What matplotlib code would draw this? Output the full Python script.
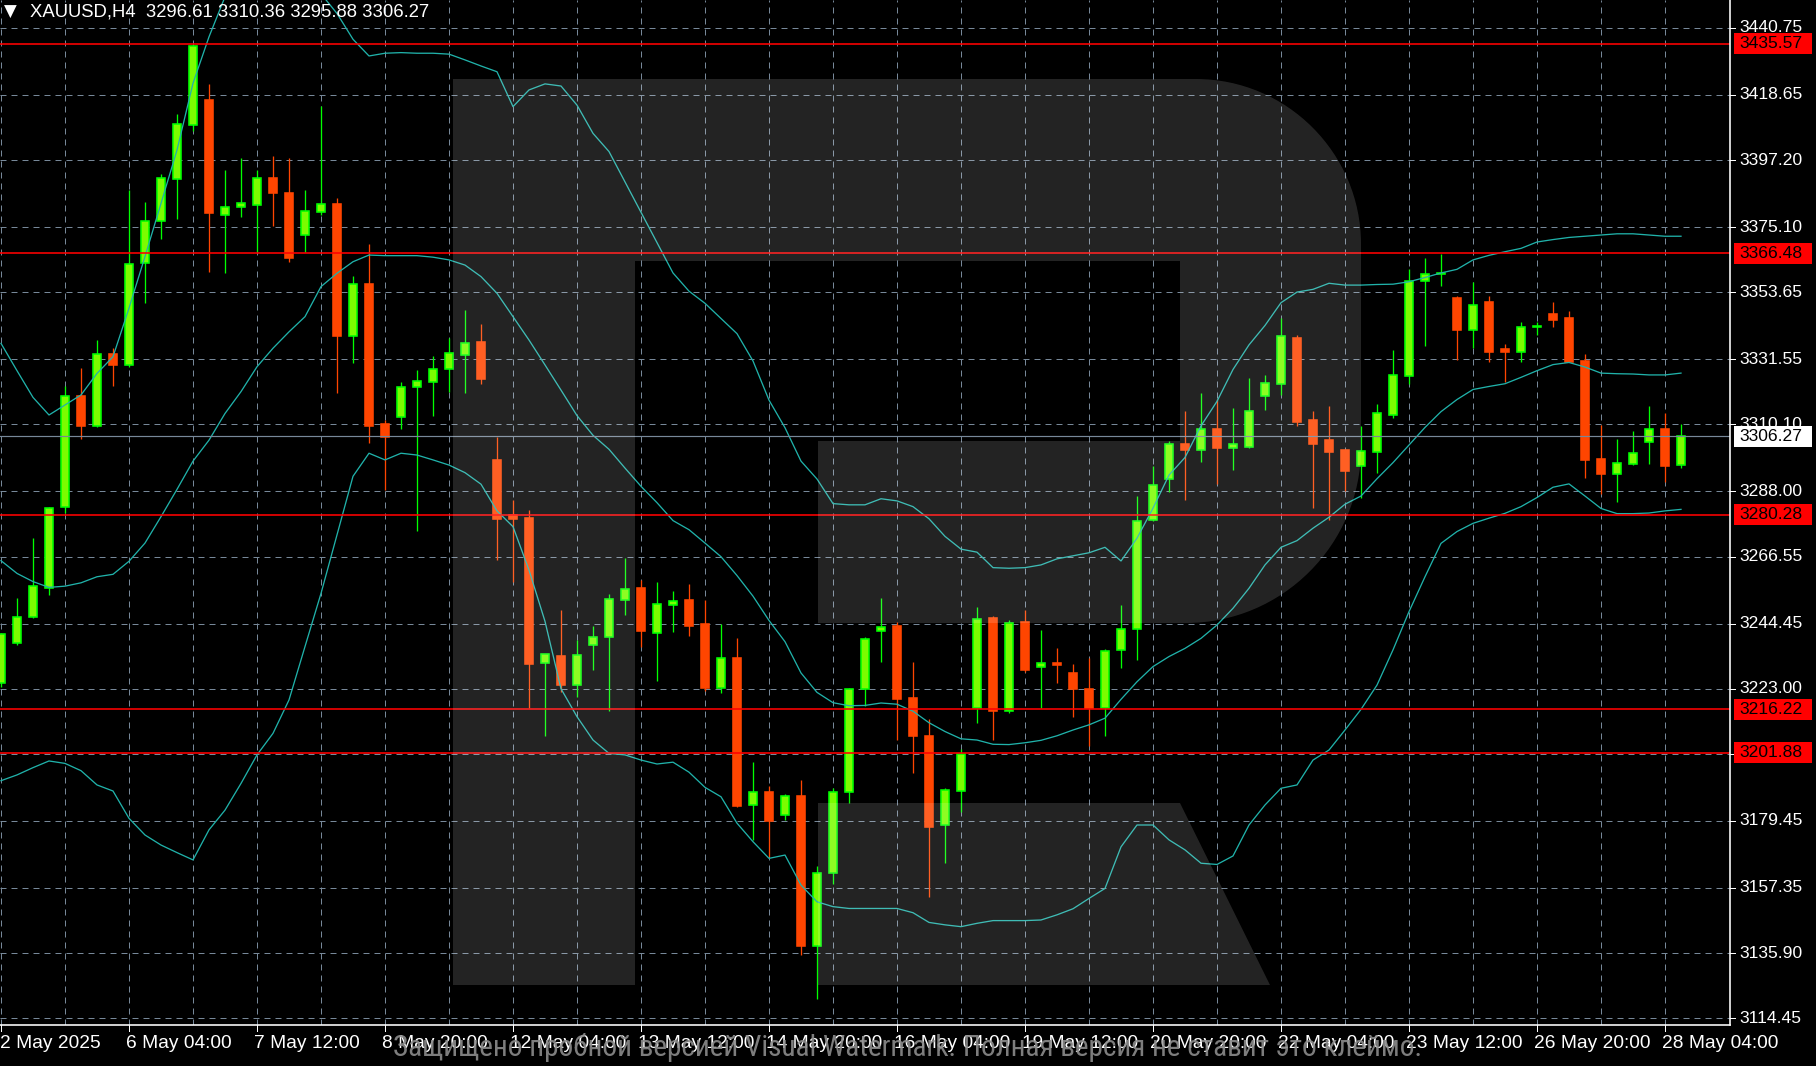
import matplotlib
matplotlib.use('Agg')
import matplotlib.pyplot as plt
from matplotlib.patches import Rectangle, PathPatch, Polygon
from matplotlib.path import Path
from matplotlib.lines import Line2D
import matplotlib.transforms as mtransforms
from matplotlib import font_manager

plt.rcParams['lines.scale_dashes'] = False

W, H, DPI = 1816, 1066, 100

# XAUUSD H4 candles (bar 0 = 2 May 2025 20:00)
opens = [3224.8, 3238.0, 3246.5, 3256.1, 3282.8, 3319.3, 3309.7, 3333.3, 3329.6, 3363.2,
         3377.2, 3391.0, 3408.7, 3417.0, 3379.1, 3381.8, 3382.4, 3391.2, 3386.5, 3372.5,
         3380.2, 3382.7, 3339.3, 3356.2, 3310.1, 3312.4, 3322.5, 3324.2, 3328.2, 3333.0,
         3337.1, 3298.3, 3280.1, 3279.3, 3231.5, 3233.7, 3224.2, 3237.4, 3240.0, 3252.4,
         3256.1, 3241.4, 3250.7, 3252.1, 3244.3, 3223.4, 3233.1, 3184.6, 3188.9, 3181.3,
         3187.6, 3138.3, 3162.2, 3188.9, 3223.0, 3242.0, 3243.6, 3219.8, 3207.4, 3178.1,
         3189.3, 3216.6, 3246.3, 3215.6, 3244.9, 3230.0, 3231.6, 3228.3, 3222.9, 3216.5,
         3235.9, 3242.7, 3278.6, 3292.2, 3303.5, 3301.8, 3308.7, 3302.4, 3302.7, 3319.5,
         3323.5, 3338.6, 3311.4, 3304.8, 3301.5, 3296.5, 3300.9, 3313.3, 3326.2, 3357.4,
         3359.7, 3351.7, 3341.2, 3350.4, 3335.1, 3334.0, 3342.1, 3346.4, 3345.0, 3331.1,
         3298.6, 3293.8, 3297.1, 3304.4, 3308.7, 3296.61]
highs = [3241.3, 3252.8, 3272.6, 3283.0, 3322.8, 3328.6, 3337.9, 3335.2, 3387.3, 3383.3,
         3392.6, 3412.4, 3435.6, 3422.3, 3393.9, 3397.8, 3393.9, 3398.5, 3397.8, 3387.3,
         3415.0, 3384.6, 3359.0, 3369.5, 3311.5, 3324.2, 3328.1, 3332.6, 3338.5, 3347.8,
         3343.2, 3305.8, 3285.3, 3281.9, 3234.6, 3248.8, 3239.1, 3243.7, 3254.3, 3266.0,
         3258.8, 3258.1, 3255.3, 3257.6, 3252.3, 3244.2, 3239.7, 3198.8, 3190.8, 3188.2,
         3192.8, 3164.5, 3190.4, 3223.2, 3240.2, 3252.8, 3244.9, 3231.7, 3213.1, 3190.2,
         3203.3, 3250.0, 3246.9, 3245.6, 3249.0, 3242.2, 3236.3, 3231.2, 3233.1, 3236.2,
         3250.7, 3286.5, 3296.3, 3304.7, 3314.5, 3320.6, 3318.6, 3315.4, 3325.3, 3326.4,
         3345.0, 3339.7, 3314.5, 3316.0, 3302.1, 3309.6, 3316.8, 3334.6, 3361.2, 3365.0,
         3366.2, 3352.5, 3356.9, 3352.5, 3336.5, 3343.8, 3343.8, 3350.4, 3347.6, 3333.2,
         3310.0, 3305.3, 3307.9, 3316.0, 3314.0, 3310.36]
lows = [3223.5, 3237.5, 3246.2, 3253.9, 3280.8, 3305.2, 3309.1, 3322.9, 3329.0, 3350.0,
        3371.1, 3377.7, 3406.9, 3360.4, 3359.9, 3378.3, 3367.0, 3375.5, 3363.7, 3367.0,
        3379.1, 3320.3, 3330.2, 3303.9, 3288.5, 3308.5, 3275.1, 3312.9, 3320.9, 3320.3,
        3323.5, 3265.5, 3258.2, 3216.5, 3207.4, 3222.0, 3220.3, 3229.3, 3215.5, 3247.2,
        3236.9, 3225.4, 3241.8, 3240.5, 3222.1, 3221.5, 3183.9, 3173.3, 3167.5, 3179.9,
        3135.3, 3120.8, 3158.6, 3185.3, 3217.3, 3231.9, 3206.1, 3195.1, 3154.3, 3165.5,
        3182.5, 3211.6, 3206.2, 3215.0, 3228.5, 3216.7, 3224.8, 3213.6, 3204.1, 3207.5,
        3229.9, 3232.5, 3278.3, 3287.9, 3285.1, 3297.8, 3290.5, 3295.2, 3302.4, 3314.8,
        3319.7, 3309.6, 3282.4, 3278.6, 3288.2, 3285.9, 3294.0, 3312.2, 3323.5, 3336.0,
        3355.7, 3331.4, 3335.4, 3330.7, 3324.1, 3330.7, 3339.4, 3342.1, 3330.5, 3292.5,
        3287.3, 3284.5, 3296.7, 3296.9, 3291.1, 3295.88]
closes = [3241.0, 3246.7, 3256.9, 3282.5, 3319.3, 3309.7, 3333.2, 3329.6, 3362.8, 3377.2,
          3391.2, 3409.0, 3434.8, 3379.6, 3381.8, 3383.2, 3391.2, 3386.2, 3365.0, 3380.5,
          3382.6, 3339.3, 3356.2, 3309.7, 3305.8, 3322.5, 3324.5, 3328.5, 3333.7, 3337.0,
          3325.0, 3278.9, 3278.8, 3231.1, 3234.4, 3224.1, 3234.2, 3240.2, 3252.7, 3256.0,
          3241.9, 3250.8, 3252.0, 3243.7, 3223.4, 3233.0, 3184.2, 3188.9, 3179.4, 3187.5,
          3138.3, 3162.4, 3188.9, 3223.0, 3239.5, 3243.5, 3219.5, 3207.5, 3177.4, 3189.5,
          3201.4, 3246.1, 3215.6, 3244.8, 3229.2, 3231.5, 3230.9, 3222.8, 3216.5, 3235.5,
          3242.8, 3278.4, 3290.2, 3303.5, 3301.8, 3308.7, 3302.3, 3303.5, 3314.5, 3323.8,
          3339.2, 3310.8, 3303.6, 3300.9, 3294.9, 3301.3, 3313.9, 3326.4, 3357.4, 3359.5,
          3360.1, 3341.2, 3349.6, 3334.0, 3334.0, 3342.3, 3342.5, 3344.6, 3330.7, 3298.3,
          3293.8, 3297.5, 3300.7, 3308.7, 3296.3, 3306.27]

# Bollinger bands
bb_upper = [3336.8, 3327.8, 3319.0, 3313.2, 3316.5, 3319.8, 3326.9, 3332.4, 3348.4, 3365.4,
            3382.9, 3400.5, 3422.5, 3437.8, 3451.0, 3455.0, 3459.0, 3462.0, 3461.0, 3457.0,
            3452.0, 3445.5, 3437.0, 3431.5, 3432.4, 3432.6, 3432.4, 3432.4, 3432.1, 3430.2,
            3428.2, 3426.3, 3414.8, 3420.3, 3422.3, 3421.6, 3415.3, 3406.0, 3400.0, 3390.0,
            3380.0, 3370.0, 3360.0, 3354.0, 3350.0, 3345.0, 3340.0, 3331.0, 3318.1, 3309.0,
            3298.0, 3292.1, 3284.0, 3283.6, 3283.6, 3285.6, 3284.9, 3283.0, 3279.0, 3273.2,
            3269.0, 3268.0, 3262.9, 3262.7, 3262.9, 3263.8, 3265.8, 3266.8, 3267.8, 3269.6,
            3265.1, 3272.6, 3282.5, 3293.4, 3299.2, 3309.6, 3317.7, 3328.2, 3336.3, 3342.7,
            3350.2, 3353.7, 3354.6, 3356.6, 3356.0, 3356.0, 3356.2, 3356.3, 3357.1, 3358.5,
            3360.0, 3361.2, 3364.3, 3365.8, 3367.0, 3368.1, 3370.2, 3371.0, 3371.7, 3372.1,
            3372.5, 3372.9, 3372.9, 3372.5, 3372.1, 3372.1]
bb_middle = [3265.2, 3261.0, 3258.3, 3256.4, 3256.8, 3257.9, 3259.9, 3260.7, 3265.0, 3271.0,
             3279.7, 3288.7, 3298.0, 3304.9, 3313.7, 3320.9, 3329.1, 3335.2, 3340.6, 3345.6,
             3355.5, 3359.9, 3363.7, 3365.9, 3365.7, 3365.7, 3365.7, 3365.2, 3364.3, 3362.6,
             3358.8, 3353.3, 3345.6, 3337.9, 3329.7, 3321.4, 3313.0, 3306.5, 3301.9, 3295.7,
             3289.7, 3284.3, 3278.4, 3275.4, 3271.0, 3266.5, 3260.3, 3253.5, 3245.5, 3238.5,
             3228.2, 3221.8, 3218.4, 3217.4, 3217.5, 3218.3, 3217.9, 3215.6, 3211.8, 3208.9,
             3206.5, 3206.1, 3204.7, 3204.6, 3205.2, 3206.0, 3207.5, 3209.4, 3211.1, 3213.3,
             3219.5, 3225.3, 3230.3, 3233.6, 3236.3, 3239.6, 3244.0, 3249.5, 3256.1, 3263.8,
             3269.6, 3271.8, 3275.9, 3279.5, 3283.8, 3286.5, 3292.2, 3297.5, 3303.3, 3309.1,
             3314.3, 3318.3, 3321.6, 3322.6, 3323.5, 3325.6, 3327.8, 3329.8, 3330.5, 3329.0,
             3327.0, 3326.8, 3326.7, 3326.4, 3326.4, 3327.0]
bb_lower = [3192.7, 3194.6, 3197.0, 3199.2, 3198.4, 3196.0, 3191.3, 3189.3, 3180.3, 3174.8,
            3171.5, 3169.0, 3166.6, 3176.5, 3183.0, 3191.8, 3201.2, 3208.3, 3219.3, 3236.9,
            3254.4, 3273.7, 3293.0, 3300.6, 3298.4, 3300.6, 3300.0, 3298.4, 3296.7, 3294.2,
            3290.4, 3281.6, 3276.4, 3262.1, 3245.2, 3223.0, 3213.8, 3206.1, 3201.7, 3201.2,
            3199.5, 3198.2, 3198.8, 3195.5, 3190.5, 3187.4, 3178.7, 3172.6, 3167.1, 3168.2,
            3158.3, 3152.8, 3151.2, 3150.6, 3150.6, 3150.6, 3150.6, 3149.2, 3146.0, 3145.2,
            3144.6, 3145.7, 3146.6, 3146.6, 3146.6, 3146.8, 3148.5, 3150.5, 3153.9, 3157.2,
            3170.9, 3178.1, 3178.1, 3173.2, 3169.9, 3165.5, 3165.1, 3167.9, 3178.1, 3184.7,
            3190.2, 3191.3, 3199.5, 3202.8, 3209.4, 3216.2, 3224.2, 3235.8, 3248.4, 3259.9,
            3270.9, 3274.8, 3277.5, 3279.2, 3280.8, 3283.0, 3286.0, 3289.4, 3290.5, 3286.5,
            3282.4, 3280.7, 3280.7, 3280.9, 3281.6, 3282.1]

levels = [3435.57, 3366.48, 3280.28, 3216.22, 3201.88]
bid = 3306.27
price_ticks = [3440.75, 3418.65, 3397.20, 3375.10, 3353.65, 3331.55, 3310.10, 3288.00,
               3266.55, 3244.45, 3223.00, 3201.55, 3179.45, 3157.35, 3135.90, 3114.45]
date_labels = ['2 May 2025', '6 May 04:00', '7 May 12:00', '8 May 20:00', '12 May 04:00',
               '13 May 12:00', '14 May 20:00', '16 May 04:00', '19 May 12:00', '20 May 20:00',
               '22 May 04:00', '23 May 12:00', '26 May 20:00', '28 May 04:00']
date_bars = [0, 8, 16, 24, 32, 40, 48, 56, 64, 72, 80, 88, 96, 104]
header = 'XAUUSD,H4  3296.61 3310.36 3295.88 3306.27'
wm_text = 'Защищено пробной версией Visual Watermark. Полная версия не ставит это клеймо.'

# pixel geometry of the chart area
PLOT_R, PLOT_B = 1730, 1025
P_TOP, P_BOT = 3449.94, 3112.20
BAR_PX = 16


def px(v):
    return v * 72.0 / DPI


def py(p):
    return (P_TOP - p) / (P_TOP - P_BOT) * PLOT_B


def bx(k):
    return 1 + BAR_PX * k


fig = plt.figure(figsize=(W / DPI, H / DPI), dpi=DPI, facecolor='black')
ax = fig.add_axes([0, 1 - PLOT_B / H, PLOT_R / W, PLOT_B / H])
ax.set_facecolor('black')
ax.set_xlim(-1 / BAR_PX, (PLOT_R - 1) / BAR_PX)
ax.set_ylim(P_BOT, P_TOP)
ax.axis('off')
pixT = mtransforms.Affine2D().scale(1 / W, -1 / H).translate(0, 1) + fig.transFigure

fonts = {f.name for f in font_manager.fontManager.ttflist}
ui_font = 'Liberation Sans' if 'Liberation Sans' in fonts else 'DejaVu Sans'
wm_font = ui_font
for cand in ['Liberation Sans Narrow', 'DejaVu Sans Condensed', 'Roboto Condensed']:
    if cand in fonts:
        wm_font = cand
        break

grid_c = '#778899'
dash = (0, (px(6), px(5)))
for p in price_ticks:
    ax.axhline(p, color=grid_c, lw=px(1), ls=dash, zorder=1)
for k in range(0, 105, 4):
    ax.axvline(k, color=grid_c, lw=px(1), ls=dash, zorder=1)

bull_fill, bull_edge, bear = '#7CFC00', '#00FF00', '#FF4500'
for k, (o, h, l, c) in enumerate(zip(opens, highs, lows, closes)):
    up = c >= o
    col = bull_edge if up else bear
    ax.plot([k, k], [l, h], color=col, lw=px(1.3), zorder=3, solid_capstyle='butt')
    lo, hi = min(o, c), max(o, c)
    ax.add_patch(Rectangle((k - 0.28, lo), 0.56, max(hi - lo, 0.05),
                           facecolor=bull_fill if up else bear, edgecolor=col,
                           lw=px(1.6), zorder=4))

xs = list(range(len(closes)))
for band in (bb_upper, bb_middle, bb_lower):
    ax.plot(xs, band, color='#20B2AA', lw=px(1.3), zorder=5)

for lv in levels:
    ax.axhline(lv, color='#FF0000', lw=px(1.6), zorder=6)
ax.axhline(bid, color=grid_c, lw=px(1.2), zorder=6)

# "R" logo overlay
R1, R2 = 165, 175
verts = [(453, 79), (1361 - R1, 79), (1361 - R1 * 0.45, 79), (1361, 79 + R1 * 0.45),
         (1361, 79 + R1), (1361, 623 - R2), (1361, 623 - R2 * 0.45),
         (1361 - R2 * 0.45, 623), (1361 - R2, 623), (818, 623), (818, 441), (1180, 441),
         (1180, 261), (635, 261), (635, 985), (453, 985), (453, 79)]
codes = [Path.MOVETO, Path.LINETO, Path.CURVE4, Path.CURVE4, Path.CURVE4, Path.LINETO,
         Path.CURVE4, Path.CURVE4, Path.CURVE4, Path.LINETO, Path.LINETO, Path.LINETO,
         Path.LINETO, Path.LINETO, Path.LINETO, Path.LINETO, Path.CLOSEPOLY]
ax.add_patch(PathPatch(Path(verts, codes), facecolor='white', alpha=0.14, lw=0,
                       transform=pixT, zorder=8, clip_on=False))
ax.add_patch(Polygon([(818, 803), (1180, 803), (1270, 985), (818, 985)], closed=True,
                     facecolor='white', alpha=0.14, lw=0, transform=pixT, zorder=8,
                     clip_on=False))

# axes frame
fig.add_artist(Line2D([PLOT_R, PLOT_R], [0, PLOT_B], transform=pixT, color='white', lw=px(1.6)))
fig.add_artist(Line2D([0, PLOT_R], [PLOT_B, PLOT_B], transform=pixT, color='white', lw=px(1.6)))

fs = 12.6
for p in price_ticks:
    y = py(p)
    fig.add_artist(Line2D([PLOT_R, PLOT_R + 5], [y, y], transform=pixT, color='white', lw=px(1)))
    fig.text(1739, y, f'{p:.2f}', transform=pixT, color='white', fontsize=fs,
             family=ui_font, va='center', ha='left', zorder=2)

for lv in levels:
    y = py(lv)
    fig.add_artist(Rectangle((1734, y - 10.5), 78, 21, transform=pixT, facecolor='#FF0000',
                             lw=0, zorder=3))
    fig.text(1739, y, f'{lv:.2f}', transform=pixT, color='black', fontsize=fs,
             family=ui_font, va='center', ha='left', zorder=4)
y = py(bid)
fig.add_artist(Rectangle((1734, y - 10.5), 78, 21, transform=pixT, facecolor='white',
                         lw=0, zorder=3))
fig.text(1739, y, f'{bid:.2f}', transform=pixT, color='black', fontsize=fs,
         family=ui_font, va='center', ha='left', zorder=4)

for lab, k in zip(date_labels, date_bars):
    x = bx(k)
    fig.add_artist(Line2D([x, x], [PLOT_B, PLOT_B + 6], transform=pixT, color='white', lw=px(1)))
    fig.text(max(x - 3, 0), 1043, lab, transform=pixT, color='white', fontsize=13.8,
             family=ui_font, va='center', ha='left', zorder=2)

fig.text(4, 12, '▼', transform=pixT, color='white', fontsize=12, family='DejaVu Sans',
         va='center', ha='left')
fig.text(30, 12, header, transform=pixT, color='white', fontsize=13.3, family=ui_font,
         va='center', ha='left')

wm = fig.text(908, 1048, wm_text, transform=pixT, color='#8c8c8c', alpha=0.9,
              fontsize=20, family=wm_font, va='center', ha='center', zorder=5)
fig.canvas.draw()
wbb = wm.get_window_extent()
wm.set_fontsize(20 * 1028 / wbb.width)

fig.savefig('out.png', dpi=DPI, facecolor='black')
